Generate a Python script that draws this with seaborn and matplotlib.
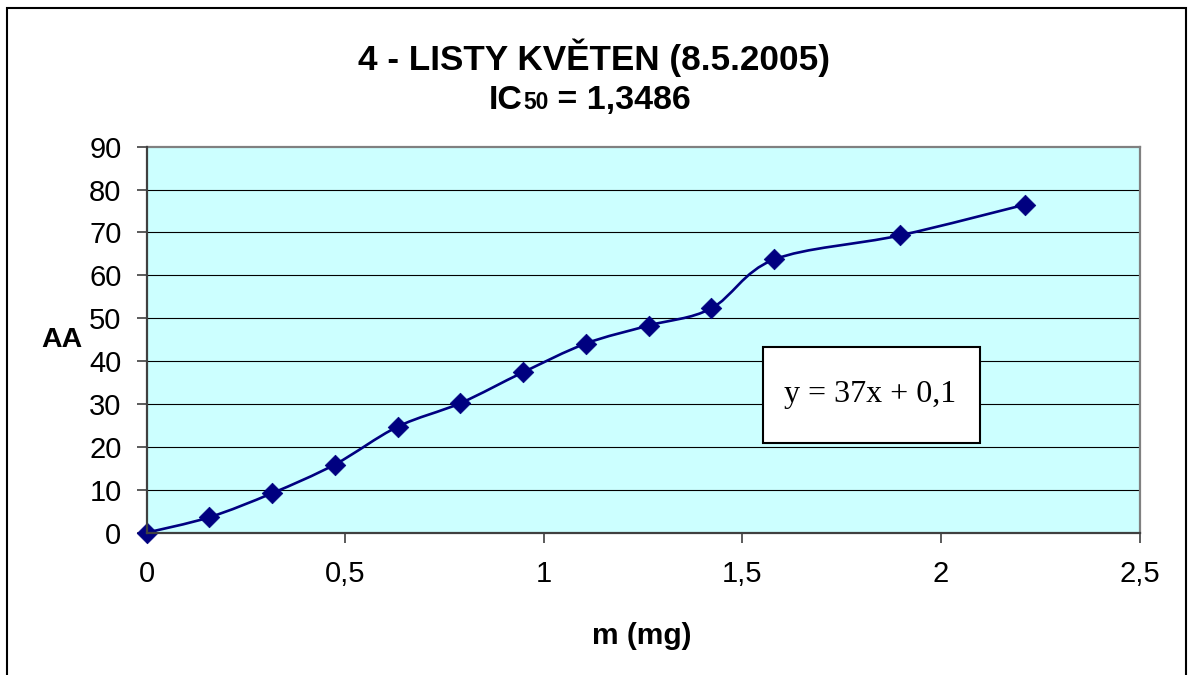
import numpy as np
import matplotlib
matplotlib.use("Agg")
import matplotlib.pyplot as plt
import seaborn as sns
import pandas as pd
from matplotlib.path import Path
from matplotlib.patches import PathPatch, Rectangle

# Measured antioxidant activity vs. sample mass
mass_mg = [0.0, 0.158, 0.316, 0.474, 0.632, 0.79, 0.948, 1.106, 1.264, 1.422, 1.58, 1.896, 2.212]
activity = [0.0, 3.6, 9.2, 15.9, 24.7, 30.2, 37.4, 44.1, 48.3, 52.3, 63.7, 69.3, 76.5]

x_ticks = [0, 0.5, 1, 1.5, 2, 2.5]
x_tick_labels = ["0", "0,5", "1", "1,5", "2", "2,5"]
y_ticks = [0, 10, 20, 30, 40, 50, 60, 70, 80, 90]

title_line1 = "4 - LISTY KVĚTEN (8.5.2005)"
equation = "y = 37x + 0,1"

sns.set_style("white")
plt.rcParams["font.family"] = ["Liberation Sans", "DejaVu Sans"]
plt.rcParams["text.color"] = "black"
plt.rcParams["xtick.color"] = "black"
plt.rcParams["ytick.color"] = "black"

W, H = 1189, 675
fig = plt.figure(figsize=(W / 100, H / 100), dpi=100)
fig.patch.set_facecolor("white")

def px_box(x0, y0, x1, y1):
    return [x0 / W, 1 - y1 / H, (x1 - x0) / W, (y1 - y0) / H]

ax = fig.add_axes(px_box(146.5, 146.7, 1139.5, 532.7))
ax.set_facecolor("#CCFFFF")

navy = "#000080"
df = pd.DataFrame({"m": mass_mg, "aa": activity})

# smoothed connecting curve (cubic Bezier segments through the points)
pts = np.column_stack([df["m"].to_numpy(), df["aa"].to_numpy()])
verts = [tuple(pts[0])]
codes = [Path.MOVETO]
n = len(pts)
for i in range(n - 1):
    p0 = pts[i - 1] if i > 0 else pts[i]
    p1, p2 = pts[i], pts[i + 1]
    p3 = pts[i + 2] if i + 2 < n else pts[i + 1]
    c1 = p1 + (p2 - p0) / 6.0
    c2 = p2 - (p3 - p1) / 6.0
    verts += [tuple(c1), tuple(c2), tuple(p2)]
    codes += [Path.CURVE4] * 3
ax.add_patch(PathPatch(Path(verts, codes), facecolor="none", edgecolor=navy,
                       lw=1.9, zorder=3, capstyle="round"))

sns.scatterplot(data=df, x="m", y="aa", marker="D", s=110, color=navy,
                edgecolor=navy, linewidth=0.5, ax=ax, zorder=4, clip_on=False)

ax.set_xlim(0, 2.5)
ax.set_ylim(0, 90)
ax.set_xticks(x_ticks)
ax.set_xticklabels(x_tick_labels)
ax.set_yticks(y_ticks)
ax.set_xlabel("")
ax.set_ylabel("")

for yv in y_ticks[1:-1]:
    ax.axhline(yv, color="black", lw=0.8, zorder=1)

for side in ("top", "right"):
    ax.spines[side].set_color("#808080")
    ax.spines[side].set_linewidth(1.6)
for side in ("left", "bottom"):
    ax.spines[side].set_color("#404040")
    ax.spines[side].set_linewidth(1.6)
    ax.spines[side].set_zorder(5)

ax.tick_params(axis="both", which="major", direction="out", length=7, width=1.2,
               color="#404040", labelsize=21, labelcolor="black")
ax.tick_params(axis="y", pad=11)
ax.tick_params(axis="x", pad=13)
ax.tick_params(left=True, bottom=True)

# axis titles
fig.text(62 / W, 1 - 340 / H, "AA", fontsize=20.5, fontweight="bold", ha="center", va="center")
fig.text(642 / W, 1 - 636 / H, "m (mg)", fontsize=21.5, fontweight="bold", ha="center", va="center")

# chart title, first line
fig.text(594 / W, 1 - 70 / H, title_line1, fontsize=25.3, fontweight="bold",
         ha="center", va="baseline")

# second title line with smaller "50"
parts = [("IC", 24.5), ("50", 16.5), (" = 1,3486", 24.5)]
texts = [fig.text(0, 1 - 109 / H, s, fontsize=fs, fontweight="bold", ha="left", va="baseline")
         for s, fs in parts]
fig.canvas.draw()
renderer = fig.canvas.get_renderer()
widths = [t.get_window_extent(renderer).width for t in texts]
x = 590 - sum(widths) / 2
for t, w in zip(texts, widths):
    t.set_x(x / W)
    x += w

# equation box
fig.add_artist(Rectangle((763 / W, 1 - 443 / H), 217 / W, 96 / H, transform=fig.transFigure,
                         facecolor="white", edgecolor="black", lw=1.5, zorder=6))
fig.text(870 / W, 1 - 395 / H, equation, fontsize=23, family=["Liberation Serif", "DejaVu Serif"],
         ha="center", va="center", zorder=7)

# outer chart frame
fig.add_artist(Rectangle((7 / W, -0.05), (1186 - 7) / W, 1.05 - 8 / H, transform=fig.transFigure,
                         facecolor="none", edgecolor="black", lw=1.5, zorder=8))

fig.savefig("out.png", dpi=100)
